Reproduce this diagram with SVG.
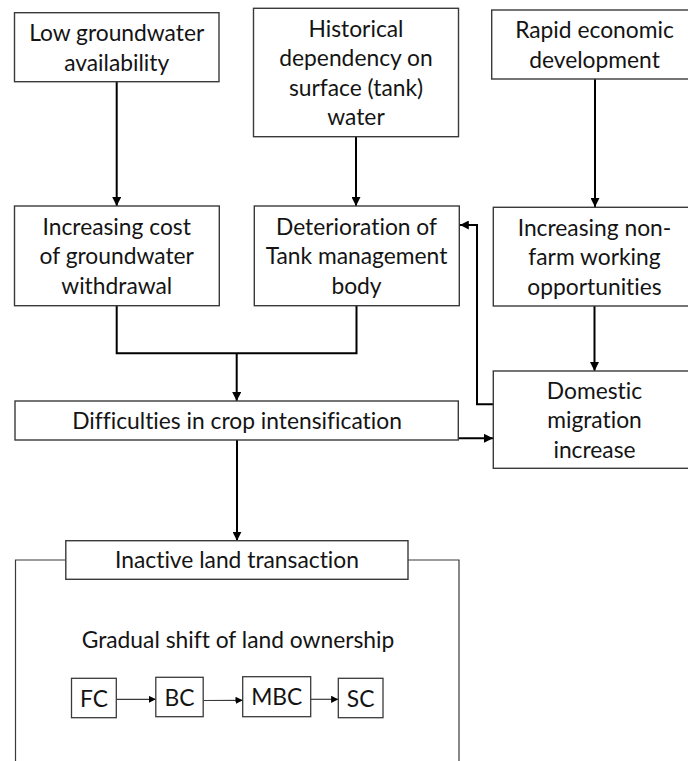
<svg xmlns="http://www.w3.org/2000/svg" width="688" height="761" viewBox="0 0 688 761">
<style>
  .box { fill: #ffffff; stroke: #3a3a3a; stroke-width: 1.4; }
  .sbox { fill: #ffffff; stroke: #3a3a3a; stroke-width: 1.3; }
  .t { font-family: Lato, "Liberation Sans", sans-serif; font-size: 22.8px; fill: #141414; text-anchor: middle; font-variant-ligatures: none; font-feature-settings: "liga" 0, "clig" 0, "dlig" 0; }
  .c { fill: none; stroke: #000000; stroke-width: 2; }
  .thin { fill: none; stroke: #3a3a3a; stroke-width: 1.2; }
  .frame { fill: none; stroke: #3a3a3a; stroke-width: 1.2; }
</style>
<defs>
  <marker id="ah" viewBox="0 0 10 10" refX="10" refY="5" markerWidth="4.5" markerHeight="4.5" orient="auto" markerUnits="strokeWidth">
    <path d="M0,0 L10,5 L0,10 z" fill="#000000"/>
  </marker>
  <marker id="ahs" viewBox="0 0 10 10" refX="10" refY="5" markerWidth="6" markerHeight="6" orient="auto" markerUnits="strokeWidth">
    <path d="M0,0 L10,5 L0,10 z" fill="#000000"/>
  </marker>
</defs>
<rect width="688" height="761" fill="#ffffff"/>

<g id="connectors">
  <line class="c" x1="116.7" y1="82" x2="116.7" y2="206" marker-end="url(#ah)"/>
  <line class="c" x1="356" y1="136.7" x2="356" y2="206" marker-end="url(#ah)"/>
  <line class="c" x1="595" y1="79" x2="595" y2="207" marker-end="url(#ah)"/>
  <polyline class="c" points="116.7,305.7 116.7,353.3 356.5,353.3 356.5,305.7"/>
  <line class="c" x1="236.7" y1="353.3" x2="236.7" y2="401" marker-end="url(#ah)"/>
  <line class="c" x1="594.5" y1="306" x2="594.5" y2="371" marker-end="url(#ah)"/>
  <polyline class="c" points="493,404.3 477,404.3 477,225 459.8,225" marker-end="url(#ah)"/>
  <polyline class="c" points="458.3,438.3 493,438.3" marker-end="url(#ah)"/>
  <line class="c" x1="237" y1="440" x2="237" y2="540.7" marker-end="url(#ah)"/>
  <line class="thin" x1="116.3" y1="699.3" x2="155.8" y2="699.3" marker-end="url(#ahs)"/>
  <line class="thin" x1="203.2" y1="700.5" x2="242.7" y2="700.3" marker-end="url(#ahs)"/>
  <line class="thin" x1="310.7" y1="699.3" x2="338.3" y2="699.3" marker-end="url(#ahs)"/>
</g>

<g id="frame">
  <polyline class="frame" points="66,560 15.5,560 15.5,765"/>
  <polyline class="frame" points="408,560 459,560 459,765"/>
</g>

<g id="low-groundwater">
  <rect class="box" x="14.5" y="12.7" width="204.5" height="69"/>
  <text class="t" x="116.7" y="41">Low groundwater</text>
  <text class="t" x="116.7" y="71">availability</text>
</g>

<g id="historical-dependency">
  <rect class="box" x="253.5" y="8.3" width="205" height="128.4"/>
  <text class="t" x="356" y="36.5">Historical</text>
  <text class="t" x="356" y="66">dependency on</text>
  <text class="t" x="356" y="95.5">surface (tank)</text>
  <text class="t" x="356" y="125">water</text>
</g>

<g id="rapid-development">
  <rect class="box" x="491.7" y="10" width="206" height="69"/>
  <text class="t" x="594.5" y="38">Rapid economic</text>
  <text class="t" x="594.5" y="67.5">development</text>
</g>

<g id="increasing-cost">
  <rect class="box" x="14.5" y="206" width="204.8" height="99.7"/>
  <text class="t" x="116.7" y="234.5">Increasing cost</text>
  <text class="t" x="116.7" y="264">of groundwater</text>
  <text class="t" x="116.7" y="293.5">withdrawal</text>
</g>

<g id="deterioration">
  <rect class="box" x="254.3" y="206" width="205" height="99.7"/>
  <text class="t" x="356.5" y="234.5">Deterioration of</text>
  <text class="t" x="356.5" y="264">Tank management</text>
  <text class="t" x="356.5" y="293.5">body</text>
</g>

<g id="non-farm">
  <rect class="box" x="493.3" y="207.3" width="206" height="98.7"/>
  <text class="t" x="594.5" y="235.5">Increasing non-</text>
  <text class="t" x="594.5" y="265">farm working</text>
  <text class="t" x="594.5" y="294.5">opportunities</text>
</g>

<g id="difficulties">
  <rect class="box" x="15" y="401" width="443.3" height="39"/>
  <text class="t" x="237" y="428.5">Difficulties in crop intensification</text>
</g>

<g id="domestic-migration">
  <rect class="box" x="493.3" y="371" width="206" height="97.3"/>
  <text class="t" x="594.5" y="398.5">Domestic</text>
  <text class="t" x="594.5" y="428">migration</text>
  <text class="t" x="594.5" y="457.5">increase</text>
</g>

<g id="inactive-land">
  <rect class="box" x="65.8" y="540.7" width="342.2" height="38.6"/>
  <text class="t" x="237" y="568">Inactive land transaction</text>
</g>

<text class="t" x="238" y="648">Gradual shift of land ownership</text>

<g id="fc">
  <rect class="sbox" x="71.5" y="678.3" width="44.8" height="39.4"/>
  <text class="t" x="93.9" y="706.5">FC</text>
</g>
<g id="bc">
  <rect class="sbox" x="155.8" y="677.3" width="47.4" height="39.4"/>
  <text class="t" x="179.5" y="705.5">BC</text>
</g>
<g id="mbc">
  <rect class="sbox" x="242.7" y="676.7" width="68" height="40"/>
  <text class="t" x="276.7" y="705">MBC</text>
</g>
<g id="sc">
  <rect class="sbox" x="338.3" y="678.3" width="44.7" height="39.4"/>
  <text class="t" x="360.6" y="706.5">SC</text>
</g>
</svg>
